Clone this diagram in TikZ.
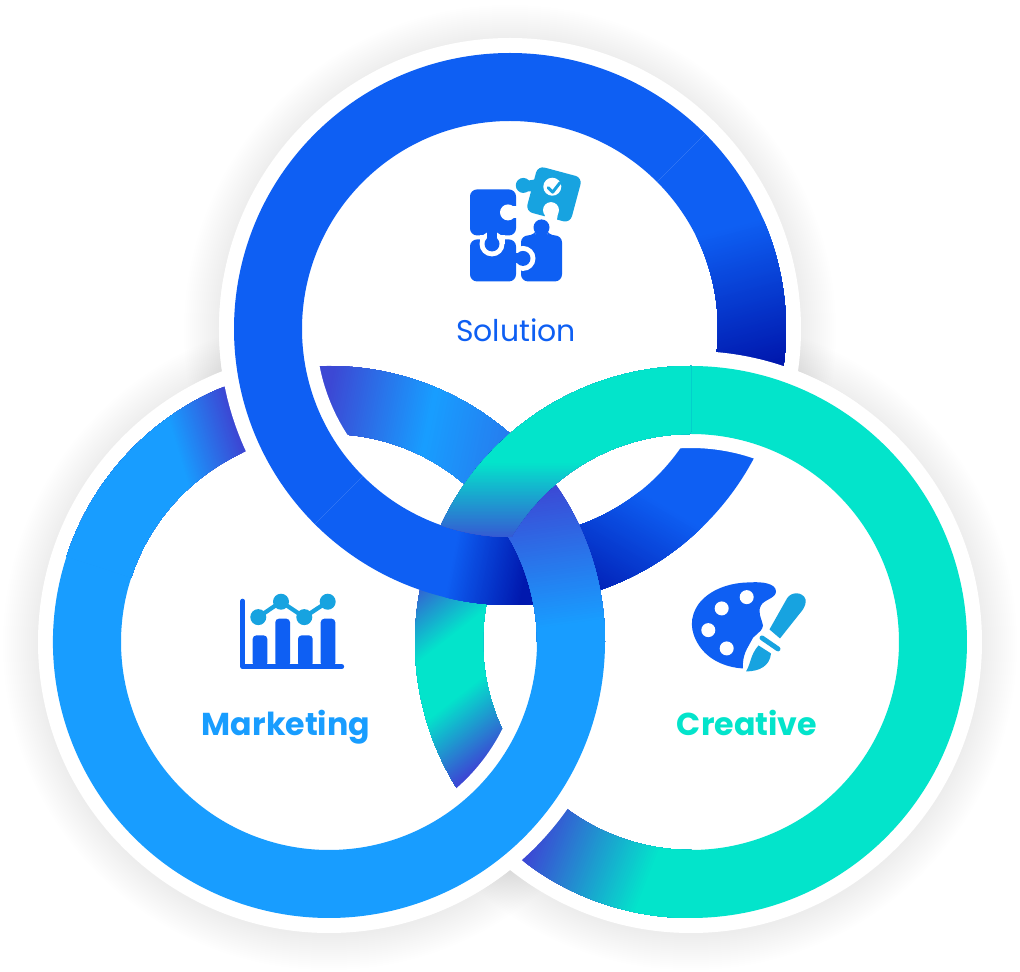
\documentclass[tikz,border=0pt]{standalone}
\usepackage{fontspec}
\setmainfont{Poppins}
\usetikzlibrary{calc}
\definecolor{mysolution}{HTML}{0E5FF3}
\definecolor{mydark}{HTML}{0018AE}
\definecolor{mymarketing}{HTML}{189DFF}
\definecolor{mycreative}{HTML}{03E4CB}
\definecolor{mypurple}{HTML}{3C48D4}
\definecolor{myicon}{HTML}{17A3E0}
% one arc of a ring: base colour, then the bands of #5 over it
\newcommand{\ringpiece}[5]{%
\begin{scope}
\clip ($(#1)+(#2:276)$) arc (#2:#3:276) -- ($(#1)+(#3:208)$) arc (#3:#2:208) -- cycle;
\fill[#4] (0,0) rectangle (1020,972);
#5
\end{scope}}
% colour #1 to colour #2 from point (#3,#4) to point (#5,#6), in pixels from the top
\newcommand{\gradband}[6]{%
\pgfmathsetmacro\gradang{atan2(#4-#6,#5-#3)}
\pgfmathsetmacro\gradlen{veclen(#5-#3,#6-#4)}
\begin{scope}[shift={(#3,972-#4)},rotate=\gradang]
\foreach \i in {0,...,59} {
\pgfmathsetmacro\mixval{\i/59*100}
\fill[#2!\mixval!#1] ({\i/60*\gradlen},-1300) rectangle (1500,1300);
}
\end{scope}}
\newcommand{\ringsolid}[4]{%
\fill[#4] ($(#1)+(#2:276)$) arc (#2:#3:276) -- ($(#1)+(#3:208)$) arc (#3:#2:208) -- cycle;}
\newcommand{\ringhalo}[3]{%
\fill[white] ($(#1)+(#2:291)$) arc (#2:#3:291) -- ($(#1)+(#3:275.5)$) arc (#3:#2:275.5) -- cycle;
\fill[white] ($(#1)+(#2:208.5)$) arc (#2:#3:208.5) -- ($(#1)+(#3:194)$) arc (#3:#2:194) -- cycle;}
\begin{document}
\begin{tikzpicture}[x=0.01cm,y=0.01cm,
every node/.style={anchor=base}]
\useasboundingbox (0,0) rectangle (1020,972);
\coordinate (solution) at (510,643);
\coordinate (marketing) at (329,330);
\coordinate (creative) at (691,330);
% soft shadow and white discs
\foreach \rad in {292,294,...,326} {
\fill[black,opacity=0.003] (solution) ++(0,-2) circle (\rad);
\fill[black,opacity=0.003] (marketing) ++(0,-2) circle (\rad);
\fill[black,opacity=0.003] (creative) ++(0,-2) circle (\rad);
}
\fill[white] (solution) circle (291);
\fill[white] (marketing) circle (291);
\fill[white] (creative) circle (291);
% lower arcs
\ringpiece{marketing}{40}{100}{mypurple}{\gradband{mypurple}{mymarketing}{327}{397}{430}{418}\gradband{mymarketing}{mypurple}{430}{418}{636}{460}}
\ringpiece{marketing}{100}{162}{mypurple}{\gradband{mypurple}{mymarketing}{232}{415}{172}{433}}
\ringpiece{solution}{-16}{45}{mysolution}{\gradband{mysolution}{mydark}{735}{225}{772}{365}}
\ringpiece{solution}{-82}{-16}{mysolution}{\gradband{mysolution}{mydark}{640}{490}{575}{600}}
\ringpiece{creative}{158}{221}{mypurple}{\gradband{mypurple}{mycreative}{383}{602}{426}{657}\gradband{mycreative}{mypurple}{454}{699}{497}{754}}
\ringpiece{creative}{221}{270}{mypurple}{\gradband{mypurple}{mycreative}{530}{845}{645}{890}}
% white gaps at the outer crossings
\ringhalo{solution}{170}{232}
\ringhalo{creative}{55}{105}
\ringhalo{marketing}{-70}{-20}
% upper arcs
\ringpiece{solution}{-135}{-82}{mysolution}{\gradband{mysolution}{mydark}{450}{570}{525}{585}}
\ringsolid{solution}{45}{225}{mysolution}
\ringpiece{marketing}{0}{40}{mypurple}{\gradband{mypurple}{mymarketing}{555}{483}{575}{625}}
\ringsolid{marketing}{-198}{0}{mymarketing}
\ringsolid{creative}{-90}{90}{mycreative}
\begin{scope}
\clip (solution) circle (208);
\ringpiece{creative}{90}{158}{mypurple}{\gradband{mypurple}{mycreative}{480}{548}{480}{462}}
\end{scope}
% icons, in pixels from the top
\begin{scope}[yshift=9.72cm,yscale=-1]
% puzzle
\fill[myicon,rotate around={15:(554,195)},rounded corners=2] (531,171.5) rectangle (577,218.5);
\fill[myicon] (523.3,186) circle (7.5);
\fill[myicon] (523,182) -- (535,180) -- (533,192) -- (523,192) -- cycle;
\fill[white] (551,210.7) circle (8);
\fill[white] (546,212) -- (558,214) -- (556,226) -- (543,224) -- cycle;
\fill[white] (552.3,187.3) circle (9);
\draw[myicon,line width=0.85pt,line cap=round,line join=round] (548.3,188.3) -- (552.7,192.7) -- (560,183.3);
\fill[mysolution,rounded corners=2] (470,190) -- (516,190) -- (516,236) -- (470,236) -- cycle;
\fill[white] (508,213) circle (8);
\fill[white] (508,207) rectangle (517,219);
\fill[mysolution] (541.5,228) circle (8);
\fill[mysolution,rounded corners=2] (535,236) -- (521,236) -- (521,282) -- (562,282) -- (562,236) -- (548,236) -- (546,230) -- (537,230) -- cycle;
\fill[white] (523,259) circle (12.5);
\fill[mysolution,rounded corners=2] (516,240) -- (470,240) -- (470,282) -- (516,282) -- cycle;
\fill[white] (492,244.5) circle (12.5);
\fill[white] (479.5,236) rectangle (504.5,245);
\fill[mysolution] (492,244.5) circle (7.5);
\fill[mysolution] (487,232) rectangle (497,244);
\fill[mysolution] (523,259) circle (7.5);
\fill[mysolution] (514,254) rectangle (523,264);
% chart
\fill[mysolution,rounded corners=1] (252.7,636) rectangle (267.3,667);
\fill[mysolution,rounded corners=1] (275.3,619.3) rectangle (290,667);
\fill[mysolution,rounded corners=1] (298,636) rectangle (312.7,667);
\fill[mysolution,rounded corners=1] (320.7,619.3) rectangle (335.3,667);
\draw[mysolution,line width=1.4pt,line cap=round,line join=round] (242.7,601.7) -- (242.7,667.3) -- (341.7,667.3);
\draw[myicon,line width=1.2pt] (258.3,617.7) -- (281,602.3) -- (304.3,617.7) -- (327.7,602.3);
\foreach \px/\py in {258.3/617.7,281/602.3,304.3/617.7,327.7/602.3}
\fill[myicon] (\px,\py) circle (8);
% palette
\fill[mysolution] (750,583) .. controls (762,582) and (776,584) .. (776,592)
.. controls (776,599) and (764,600) .. (761,606)
.. controls (757,613) and (762,620) .. (763,626)
.. controls (762,634) and (752,636) .. (751,642)
.. controls (748,648) and (742,655) .. (743,669)
.. controls (725,668) and (708,660) .. (699,646)
.. controls (690,632) and (689,618) .. (699,604)
.. controls (710,590) and (730,583) .. (750,583) -- cycle;
\foreach \px/\py in {746.7/597.7,721.7/609,708.3/630.7,726.7/649}
\fill[white] (\px,\py) circle (7);
\fill[myicon] (787,599) .. controls (791,592) and (803,592) .. (805.5,600)
.. controls (806,604) and (805,607) .. (803,610)
-- (780,639) -- (769.5,630) -- cycle;
\draw[myicon,line width=1.4pt,line cap=round] (762,638.5) -- (778,649.5);
\fill[myicon] (758.5,646) -- (771,654) .. controls (770,666) and (760,672) .. (746,672)
.. controls (751,664) and (750,656) .. (758.5,646) -- cycle;
\end{scope}
% labels
\node[text=mysolution,font=\fontsize{8.5}{10}\selectfont] (solutionlabel) at (516,630) {Solution};
\node[text=mymarketing,font=\fontsize{9}{10}\selectfont\bfseries] (marketinglabel) at (286,236) {Marketing};
\node[text=mycreative,font=\fontsize{9}{10}\selectfont\bfseries] (creativelabel) at (747,236) {Creative};
\end{tikzpicture}
\end{document}
